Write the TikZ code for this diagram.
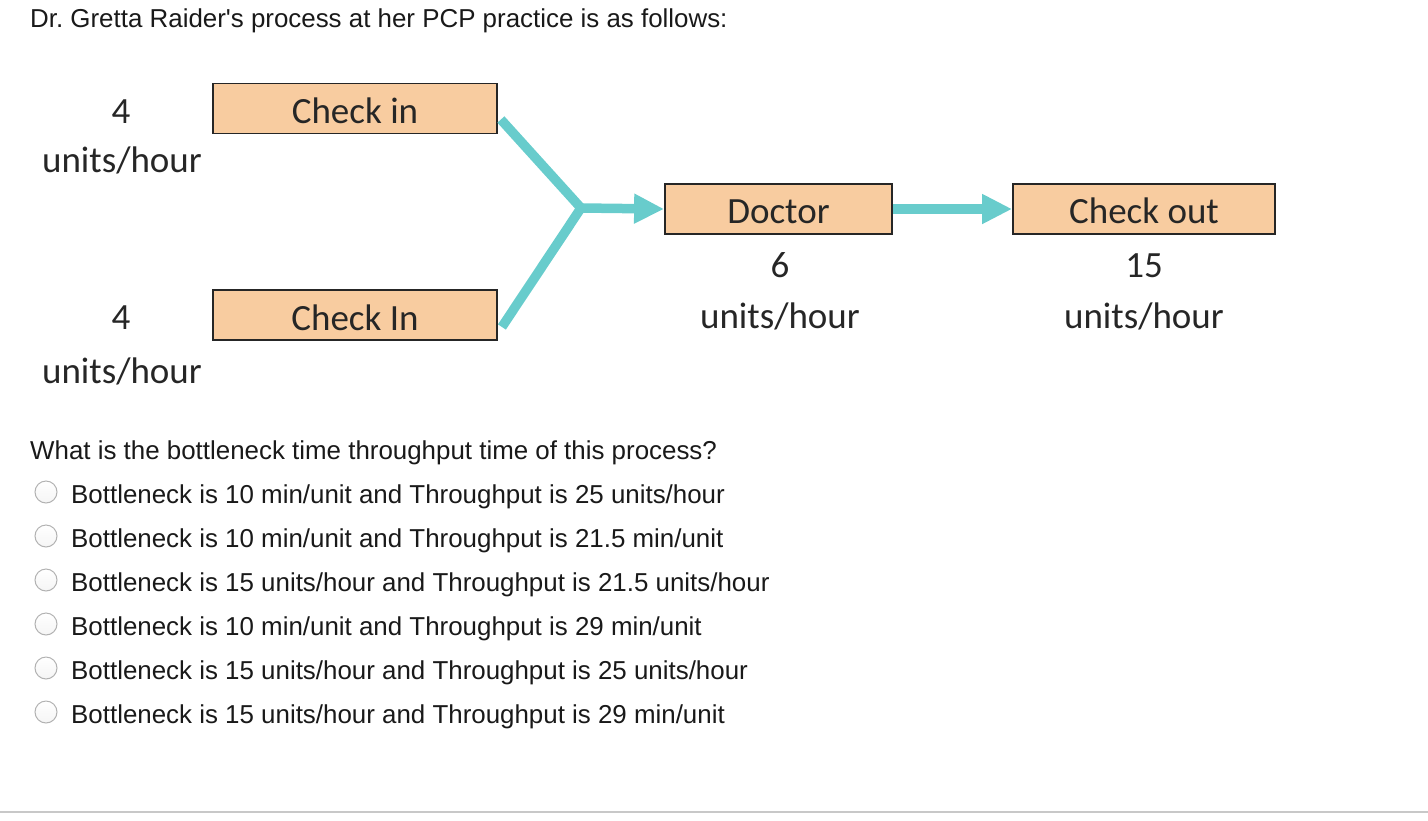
\documentclass[tikz,border=0pt]{standalone}
\usepackage{fontspec}
\setmainfont{Liberation Sans}
\newfontfamily\diagfont{Carlito}
\usetikzlibrary{arrows.meta}
\definecolor{boxfill}{RGB}{248,204,160}
\definecolor{teal}{RGB}{104,204,204}
\definecolor{rule}{RGB}{200,200,200}
\frenchspacing
\begin{document}
\begin{tikzpicture}[x=1pt,y=-1pt,
  q/.style={inner sep=0pt,anchor=base west,font=\fontsize{25.9}{30}\selectfont,text=black!90},
  d/.style={inner sep=0pt,anchor=base,font=\diagfont\fontsize{37}{44}\selectfont,text=black!85},
  stage/.style={draw=black!85,line width=1.8pt,fill=boxfill},
  flow/.style={draw=teal,line width=9.5pt},
  radio/.style={draw=black!30,line width=1pt,top color=white,bottom color=black!4,circle,minimum size=22pt,inner sep=0pt}]
\useasboundingbox (0,0) rectangle (1428,820);
% title
\node[q] (title) at (30,27) {Dr. Gretta Raider\textquotesingle s process at her PCP practice is as follows:};
% boxes
\node[stage,minimum width=284pt,minimum height=50pt] (ci1) at (355,108.5) {};
\node[stage,minimum width=284pt,minimum height=50pt] (ci2) at (355,315) {};
\node[stage,minimum width=227pt,minimum height=50pt] (doc) at (778.5,209) {};
\node[stage,minimum width=262pt,minimum height=50pt] (co) at (1144,209) {};
\node[d] (t1) at (355,123) {Check in};
\node[d] (t2) at (355,330) {Check In};
\node[d] (t3) at (778.5,223) {Doctor};
\node[d] (t4) at (1144,223) {Check out};
% rates
\node[d] (r1a) at (121,123) {4};
\node[d] (r1b) at (122,172) {units/hour};
\node[d] (r2a) at (121,329) {4};
\node[d] (r2b) at (122,383) {units/hour};
\node[d] (r3a) at (780,277) {6};
\node[d] (r3b) at (780,328) {units/hour};
\node[d] (r4a) at (1144,277) {15};
\node[d] (r4b) at (1144,328) {units/hour};
% connectors
\coordinate (j) at (581,208);
\path (ci1.east) ++(3,11) coordinate (s1);
\path (ci2.east) ++(4,12) coordinate (s2);
\draw[flow,line join=round] (s1) -- (j) -- (s2);
\draw[flow,-{Triangle[length=30pt,width=28pt]}] (j) -- (doc.west);
\draw[flow,-{Triangle[length=30pt,width=28pt]}] (doc.east) -- (co.west);
% question
\node[q] (qq) at (30,459) {What is the bottleneck time throughput time of this process?};
\foreach \i/\t in {0/{Bottleneck is 10 min/unit and Throughput is 25 units/hour},
                   1/{Bottleneck is 10 min/unit and Throughput is 21.5 min/unit},
                   2/{Bottleneck is 15 units/hour and Throughput is 21.5 units/hour},
                   3/{Bottleneck is 10 min/unit and Throughput is 29 min/unit},
                   4/{Bottleneck is 15 units/hour and Throughput is 25 units/hour},
                   5/{Bottleneck is 15 units/hour and Throughput is 29 min/unit}}{
  \node[radio] (rb\i) at (46,{492+44*\i}) {};
  \node[q] (opt\i) at (71,{503+44*\i}) {\t};
}
\coordinate (l1) at (0,812);
\coordinate (l2) at (1428,812);
\draw[rule,line width=2pt] (l1) -- (l2);
\end{tikzpicture}
\end{document}
